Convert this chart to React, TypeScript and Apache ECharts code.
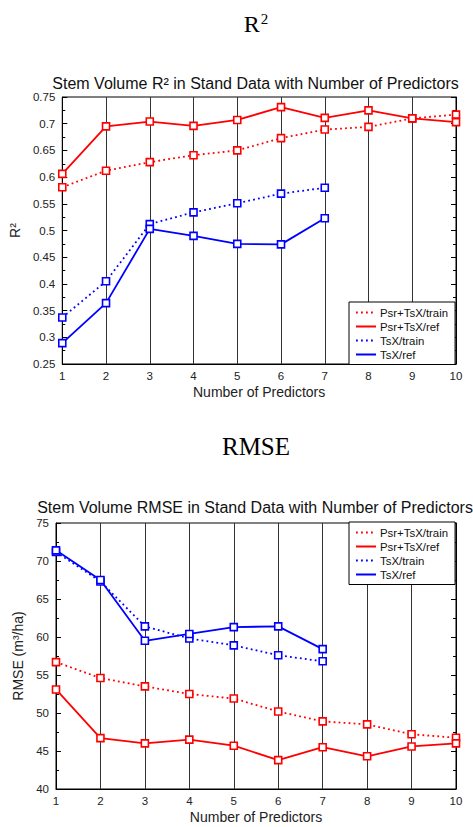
import React, { useEffect, useRef } from "react";
import * as echarts from "echarts";

const predictors = [1, 2, 3, 4, 5, 6, 7, 8, 9, 10];
const seriesNames = ["Psr+TsX/train", "Psr+TsX/ref", "TsX/train", "TsX/ref"];

const r2PsrTrain = [0.581, 0.612, 0.628, 0.641, 0.65, 0.673, 0.689, 0.694, 0.71, 0.717];
const r2PsrRef = [0.606, 0.695, 0.704, 0.696, 0.707, 0.731, 0.711, 0.725, 0.71, 0.703];
const r2TsxTrain = [0.337, 0.405, 0.512, 0.534, 0.551, 0.569, 0.58];
const r2TsxRef = [0.289, 0.364, 0.503, 0.49, 0.475, 0.474, 0.523];

const rmsePsrTrain = [56.7, 54.6, 53.5, 52.5, 51.9, 50.2, 48.9, 48.5, 47.2, 46.75];
const rmsePsrRef = [53.1, 46.7, 46.0, 46.5, 45.7, 43.8, 45.5, 44.3, 45.6, 46.0];
const rmseTsxTrain = [71.2, 67.3, 61.4, 59.8, 58.9, 57.6, 56.8];
const rmseTsxRef = [71.4, 67.5, 59.5, 60.4, 61.3, 61.4, 58.4];

const RED = "#ff0000";
const BLUE = "#0000ff";
const SANS = "'Liberation Sans', Arial, Helvetica, sans-serif";
const SERIF = "'Liberation Serif', 'Times New Roman', serif";

function pairs(vals: number[]) {
  return vals.map((v, i) => [predictors[i], v]);
}

function mkSeries(name: string, vals: number[], color: string, dotted: boolean, idx: number) {
  return {
    type: "line",
    name,
    xAxisIndex: idx,
    yAxisIndex: idx * 2,
    data: pairs(vals),
    symbol: "rect",
    symbolSize: 7,
    showSymbol: true,
    lineStyle: { color, width: 1.8, type: dotted ? [1.8, 3.2] : "solid" },
    itemStyle: { color: "#fff", borderColor: color, borderWidth: 1.6 },
    emphasis: { disabled: true },
    z: 3,
  };
}

function xAxis(gridIndex: number) {
  return {
    type: "value",
    gridIndex,
    min: 1,
    max: 10,
    interval: 1,
    name: "Number of Predictors",
    nameLocation: "middle",
    nameGap: 21,
    nameTextStyle: { fontFamily: SANS, fontSize: 14, color: "#222" },
    axisLine: { show: true, lineStyle: { color: "#000", width: 1 } },
    axisTick: { show: false },
    axisLabel: { fontFamily: SANS, fontSize: 11.5, color: "#222", margin: 6 },
    splitLine: { show: true, lineStyle: { color: "#333", width: 1 } },
  };
}

function yAxes(gridIndex: number, min: number, max: number, interval: number, name: string, gap: number) {
  const common = {
    type: "value",
    gridIndex,
    min,
    max,
    interval,
    axisLine: { show: true, lineStyle: { color: "#000", width: 1 } },
    axisTick: { show: true, inside: true, length: 5, lineStyle: { color: "#000" } },
    minorTick: { show: true, splitNumber: 2, length: 3, lineStyle: { color: "#000" } },
    splitLine: { show: false },
    minorSplitLine: { show: false },
  };
  return [
    {
      ...common,
      position: "left",
      name,
      nameLocation: "middle",
      nameGap: gap,
      nameTextStyle: { fontFamily: SANS, fontSize: 14, color: "#222" },
      axisLabel: { fontFamily: SANS, fontSize: 11.5, color: "#222", margin: 7 },
    },
    {
      ...common,
      position: "right",
      axisLabel: { show: false },
    },
  ];
}

function legend(top: number) {
  return {
    show: true,
    data: seriesNames,
    orient: "vertical",
    left: 349,
    top,
    padding: [3.5, 7, 3, 6],
    itemGap: 0,
    itemWidth: 20,
    itemHeight: 10,
    backgroundColor: "#fff",
    borderColor: "#000",
    borderWidth: 1,
    borderRadius: 0,
    selectedMode: false,
    itemStyle: { opacity: 0 },
    textStyle: { fontFamily: SANS, fontSize: 11.4, color: "#111", lineHeight: 14, padding: [0, 0, 0, -1] },
    z: 10,
  };
}

export default function App() {
  const ref = useRef<HTMLDivElement>(null);
  useEffect(() => {
    if (!ref.current) return;
    const chart = echarts.init(ref.current, null, { renderer: "svg" });
    const option = {
      animation: false,
      backgroundColor: "#fff",
      grid: [
        { left: 56, top: 97, width: 400, height: 267, show: true, borderColor: "#000", borderWidth: 1, backgroundColor: "#fff" },
        { left: 56, top: 523, width: 400, height: 266, show: true, borderColor: "#000", borderWidth: 1, backgroundColor: "#fff" },
      ],
      xAxis: [xAxis(0), xAxis(1)],
      yAxis: [
        ...yAxes(0, 0.25, 0.75, 0.05, "R²", 30),
        ...yAxes(1, 40, 75, 5, "RMSE (m³/ha)", 19),
      ],
      legend: [legend(302), legend(522)],
      graphic: [
        {
          type: "text",
          x: 256,
          y: 24,
          style: {
            text: "{r|R}{s|2}",
            rich: {
              r: { font: `24px ${SERIF}`, fill: "#000", lineHeight: 26 },
              s: { font: `15px ${SERIF}`, fill: "#000", lineHeight: 26, verticalAlign: "top", padding: [0, 0, 0, 1] },
            },
            textAlign: "center",
            textVerticalAlign: "middle",
          },
        },
        { type: "text", x: 256, y: 446, style: { text: "RMSE", font: `25px ${SERIF}`, fill: "#000", textAlign: "center", textVerticalAlign: "middle" } },
        { type: "text", x: 255.5, y: 83, style: { text: "Stem Volume R² in Stand Data with Number of Predictors", font: `16px ${SANS}`, fill: "#111", textAlign: "center", textVerticalAlign: "middle" } },
        { type: "text", x: 255, y: 507, style: { text: "Stem Volume RMSE in Stand Data with Number of Predictors", font: `16px ${SANS}`, fill: "#111", textAlign: "center", textVerticalAlign: "middle" } },
      ],
      series: [
        mkSeries(seriesNames[0], r2PsrTrain, RED, true, 0),
        mkSeries(seriesNames[1], r2PsrRef, RED, false, 0),
        mkSeries(seriesNames[2], r2TsxTrain, BLUE, true, 0),
        mkSeries(seriesNames[3], r2TsxRef, BLUE, false, 0),
        mkSeries(seriesNames[0], rmsePsrTrain, RED, true, 1),
        mkSeries(seriesNames[1], rmsePsrRef, RED, false, 1),
        mkSeries(seriesNames[2], rmseTsxTrain, BLUE, true, 1),
        mkSeries(seriesNames[3], rmseTsxRef, BLUE, false, 1),
      ],
    };
    chart.setOption(option as any);
    return () => chart.dispose();
  }, []);
  return (
    <div
      ref={ref}
      style={{ position: "fixed", left: 0, top: 0, width: 473, height: 827, background: "#fff" }}
    />
  );
}
